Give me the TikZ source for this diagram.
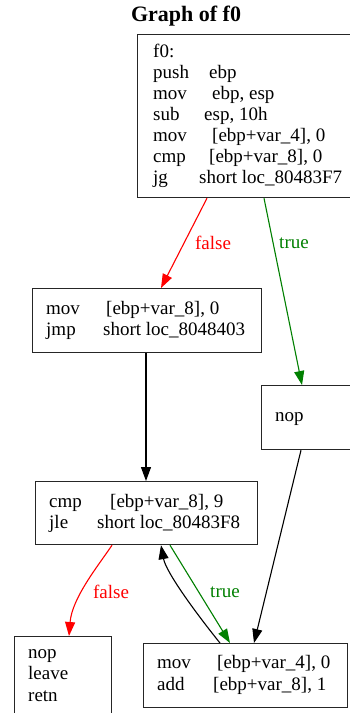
\documentclass[tikz,border=0pt]{standalone}
\usepackage{fontspec}
\setmainfont{Liberation Serif}
\usetikzlibrary{arrows.meta,calc}
\definecolor{gvgreen}{RGB}{0,128,0}
\tikzset{
  blk/.style={draw=black!85, line width=1.2pt, rectangle, inner sep=0pt, anchor=north west},
  tx/.style={anchor=base west, inner sep=0pt, font=\fontsize{19}{21}\selectfont},
  lbl/.style={inner sep=0pt, font=\fontsize{19}{21}\selectfont},
  edge/.style={line width=1.1pt, -{Triangle[length=14pt,width=10pt]}},
  redE/.style={edge, draw=red},
  grnE/.style={edge, draw=gvgreen},
  blkE/.style={edge, draw=black}
}
\begin{document}
\begin{tikzpicture}[x=1pt,y=-1pt]
\useasboundingbox (0,0) rectangle (350,713);
\clip (0,0) rectangle (350,713);
\fill[white] (0,0) rectangle (350,713);
% title
\node[anchor=base, inner sep=0pt, font=\fontsize{22}{24}\selectfont\bfseries] (title) at (186,21) {Graph of f0};
% boxes
\node[blk, minimum width=223pt, minimum height=163pt] (top) at (137,34) {};
\node[blk, minimum width=229pt, minimum height=64pt] (b2) at (32,288) {};
\node[blk, minimum width=139pt, minimum height=64pt] (nop) at (261,385) {};
\node[blk, minimum width=222pt, minimum height=63pt] (b3) at (35,481) {};
\node[blk, minimum width=97pt, minimum height=94pt] (b4) at (14,636) {};
\node[blk, minimum width=204pt, minimum height=64pt] (b5) at (143,643) {};
% top box text
\node[tx] (t0) at (153,57) {f0:};
\node[tx] (t1a) at (153,78) {push};  \node[tx] (t1b) at (209,78) {ebp};
\node[tx] (t2a) at (153,99) {mov};   \node[tx] (t2b) at (212,99) {ebp, esp};
\node[tx] (t3a) at (153,120) {sub};  \node[tx] (t3b) at (204,120) {esp, 10h};
\node[tx] (t4a) at (153,141) {mov};  \node[tx] (t4b) at (212,141) {[ebp+var\_4], 0};
\node[tx] (t5a) at (153,162) {cmp};  \node[tx] (t5b) at (209,162) {[ebp+var\_8], 0};
\node[tx] (t6a) at (153,183) {jg};   \node[tx] (t6b) at (199,183) {short loc\_80483F7};
% box 2
\node[tx] (u1a) at (46,314) {mov};   \node[tx] (u1b) at (106,314) {[ebp+var\_8], 0};
\node[tx] (u2a) at (46,335) {jmp};   \node[tx] (u2b) at (103,335) {short loc\_8048403};
% nop
\node[tx] (n1) at (275,421) {nop};
% box 3
\node[tx] (v1a) at (49,507) {cmp};   \node[tx] (v1b) at (110,507) {[ebp+var\_8], 9};
\node[tx] (v2a) at (49,528) {jle};   \node[tx] (v2b) at (97,528) {short loc\_80483F8};
% box 4
\node[tx] (w1) at (28,658) {nop};
\node[tx] (w2) at (28,679) {leave};
\node[tx] (w3) at (28,701) {retn};
% box 5
\node[tx] (z1a) at (157,668) {mov};  \node[tx] (z1b) at (217,668) {[ebp+var\_4], 0};
\node[tx] (z2a) at (157,690) {add};  \node[tx] (z2b) at (213,690) {[ebp+var\_8], 1};
% edges
\draw[redE] ($(top.south west)+(70,0)$) -- ($(b2.north west)+(129,0)$);
\node[lbl, text=red] (lf1) at (213,243) {false};
\draw[grnE] ($(top.south west)+(127,0)$) -- ($(nop.north west)+(41,0)$);
\node[lbl, text=gvgreen] (lt1) at (294,243) {true};
\draw[blkE] ($(b2.south west)+(114,0)$) -- ($(b3.north west)+(111,0)$);
\draw[blkE] ($(nop.south west)+(40,0)$) -- ($(b5.north west)+(111,0)$);
\draw[redE] ($(b3.south west)+(77,0)$) .. controls (98,566) and (72,598) .. ($(b4.north west)+(55,0)$);
\node[lbl, text=red] (lf2) at (111,592) {false};
\draw[grnE] ($(b3.south west)+(135,0)$) -- ($(b5.north west)+(87,0)$);
\node[lbl, text=gvgreen] (lt2) at (225,592) {true};
\draw[blkE] ($(b5.north west)+(77,0)$) .. controls (195,612) and (166,572) .. ($(b3.south west)+(126,0)$);
\end{tikzpicture}
\end{document}
